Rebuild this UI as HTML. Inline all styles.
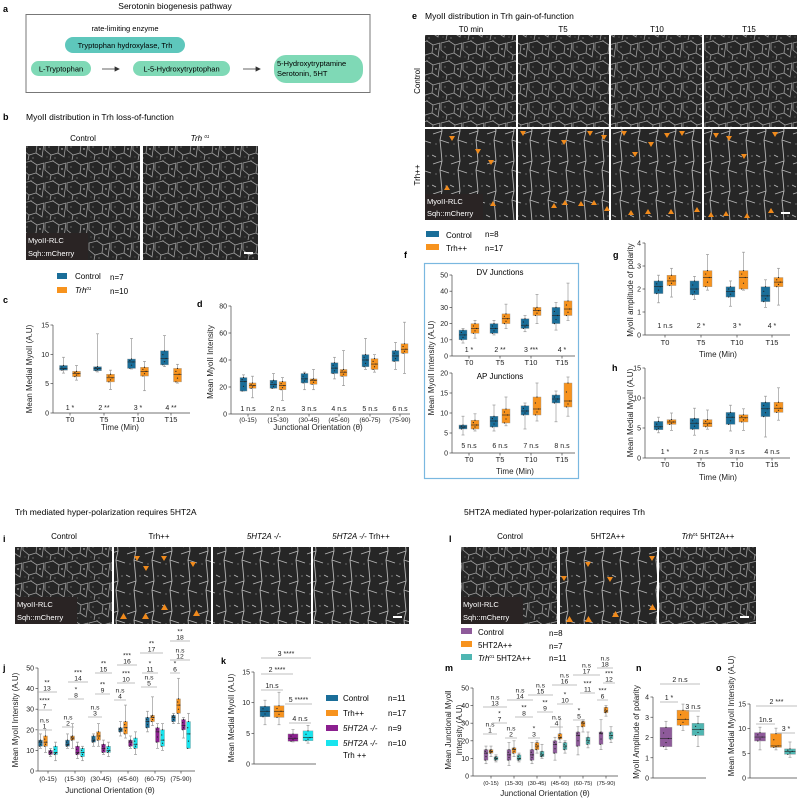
<!DOCTYPE html>
<html><head><meta charset="utf-8"><style>
html,body{margin:0;padding:0;background:#fff;}
svg{display:block;font-family:"Liberation Sans",Arial,sans-serif;}
</style></head><body>
<svg id="fig" width="800" height="799" viewBox="0 0 800 799" xmlns="http://www.w3.org/2000/svg">
<defs>
<pattern id="cells" width="22" height="20" patternUnits="userSpaceOnUse">
<rect width="22" height="20" fill="#262626"/>
<path d="M1 3 L9 1 L15 5 L14 13 L7 15 L1 10 Z M15 5 L22 3 M14 13 L20 17 L22 3 M7 15 L6 20 M9 1 L9 0" fill="none" stroke="#bdbdbd" stroke-width="0.8" opacity="0.8"/>
<circle cx="18" cy="9" r="0.7" fill="#ddd"/><circle cx="5" cy="7" r="0.6" fill="#999"/><circle cx="11" cy="18" r="0.6" fill="#999"/><circle cx="3" cy="17" r="0.5" fill="#888"/>
</pattern>
<pattern id="cells2" width="18" height="30" patternUnits="userSpaceOnUse">
<rect width="18" height="30" fill="#262626"/>
<path d="M9 0 L10 11 L8 20 L9 30 M10 11 L1 14 M8 20 L17 23 M0 5 L4 7" fill="none" stroke="#d0d0d0" stroke-width="0.9" opacity="0.85"/>
<circle cx="14" cy="6" r="0.6" fill="#aaa"/><circle cx="4" cy="24" r="0.6" fill="#999"/>
</pattern>
</defs>
<g id="static">
<text x="3" y="12" font-size="9" font-weight="bold">a</text>
<text x="175" y="9" font-size="8.5" text-anchor="middle">Serotonin biogenesis pathway</text>
<rect x="26" y="14.5" width="344" height="78" fill="none" stroke="#777" stroke-width="1"/>
<text x="125" y="31" font-size="7.5" text-anchor="middle">rate-limiting enzyme</text>
<rect x="65" y="37" width="120" height="16" rx="8" fill="#5ec7bc"/>
<text x="125" y="48" font-size="7.5" text-anchor="middle">Tryptophan hydroxylase, Trh</text>
<rect x="31" y="61" width="60" height="15" rx="7.5" fill="#7fd9b6"/>
<text x="61" y="71.5" font-size="7.5" text-anchor="middle">L-Tryptophan</text>
<rect x="133" y="61" width="97" height="15" rx="7.5" fill="#7fd9b6"/>
<text x="181.5" y="71.5" font-size="7.5" text-anchor="middle">L-5-Hydroxytryptophan</text>
<rect x="274" y="55" width="89" height="28" rx="12" fill="#7fd9b6"/>
<text x="277" y="66" font-size="7.5">5-Hydroxytryptamine</text>
<text x="277" y="76" font-size="7.5">Serotonin, 5HT</text>
<path d="M102 69 H118 M115 67 L119 69 L115 71 Z M243 69 H259 M256 67 L260 69 L256 71 Z" stroke="#333" fill="#333" stroke-width="0.8"/>
<text x="3" y="120" font-size="9" font-weight="bold">b</text>
<text x="26" y="120" font-size="8.5">MyoII distribution in Trh loss-of-function</text>
<text x="83" y="141" font-size="8" text-anchor="middle">Control</text>
<text x="200" y="141" font-size="8" text-anchor="middle" font-style="italic">Trh <tspan font-size="4.5" dy="-3">01</tspan></text>
<rect x="26" y="146" width="114" height="114" fill="url(#cells)"/>
<rect x="143" y="146" width="115" height="114" fill="url(#cells)"/>
<rect x="26" y="233" width="62" height="27" fill="#2a2424"/>
<text x="28" y="243" font-size="7.5" fill="#fff">MyoII-RLC</text>
<text x="28" y="256" font-size="7.5" fill="#fff">Sqh::mCherry</text>
<rect x="244" y="252" width="9" height="2" fill="#fff"/>
<rect x="57" y="273" width="10" height="6" fill="#1a6e99"/>
<text x="75" y="279" font-size="8">Control</text>
<text x="110" y="280" font-size="8">n=7</text>
<rect x="57" y="287" width="10" height="6" fill="#f7931e"/>
<text x="75" y="293" font-size="8" font-style="italic">Trh<tspan font-size="4.5" dy="-3">01</tspan></text>
<text x="110" y="294" font-size="8">n=10</text>
<text x="3" y="303" font-size="9" font-weight="bold">c</text>
<text x="197" y="307" font-size="9" font-weight="bold">d</text>
<text x="412" y="19" font-size="9" font-weight="bold">e</text>
<text x="425" y="19" font-size="8.5">MyoII distribution in Trh gain-of-function</text>
<text x="471" y="32" font-size="8" text-anchor="middle">T0 min</text>
<text x="563" y="32" font-size="8" text-anchor="middle">T5</text>
<text x="657" y="32" font-size="8" text-anchor="middle">T10</text>
<text x="749" y="32" font-size="8" text-anchor="middle">T15</text>
<text transform="translate(420,81) rotate(-90)" font-size="8" text-anchor="middle">Control</text>
<text transform="translate(420,175) rotate(-90)" font-size="8" text-anchor="middle">Trh++</text>
<rect x="425" y="35" width="91" height="92" fill="url(#cells)"/>
<rect x="518" y="35" width="91" height="92" fill="url(#cells)"/>
<rect x="611" y="35" width="91" height="92" fill="url(#cells)"/>
<rect x="704" y="35" width="93" height="92" fill="url(#cells)"/>
<rect x="425" y="129" width="91" height="91" fill="url(#cells2)"/>
<rect x="518" y="129" width="91" height="91" fill="url(#cells2)"/>
<rect x="611" y="129" width="91" height="91" fill="url(#cells2)"/>
<rect x="704" y="129" width="93" height="91" fill="url(#cells2)"/>
<rect x="425" y="194" width="58" height="26" fill="#2a2424"/>
<text x="427" y="204" font-size="7.5" fill="#fff">MyoII-RLC</text>
<text x="427" y="216" font-size="7.5" fill="#fff">Sqh::mCherry</text>
<g fill="#f08a1c">
<path d="M449 136 l6 0 l-3 5z M475 149 l6 0 l-3 5z M488 160 l6 0 l-3 5z M444 190 l6 0 l-3 -5z M490 206 l6 0 l-3 -5z M520 131 l6 0 l-3 5z M561 140 l6 0 l-3 5z M587 131 l6 0 l-3 5z M601 135 l6 0 l-3 5z M551 208 l6 0 l-3 -5z M562 205 l6 0 l-3 -5z M578 206 l6 0 l-3 -5z M591 205 l6 0 l-3 -5z M604 211 l6 0 l-3 -5z M621 131 l6 0 l-3 5z M632 152 l6 0 l-3 5z M648 142 l6 0 l-3 5z M664 133 l6 0 l-3 5z M679 131 l6 0 l-3 5z M628 215 l6 0 l-3 -5z M645 214 l6 0 l-3 -5z M668 214 l6 0 l-3 -5z M694 212 l6 0 l-3 -5z M713 133 l6 0 l-3 5z M726 136 l6 0 l-3 5z M741 154 l6 0 l-3 5z M772 132 l6 0 l-3 5z M708 217 l6 0 l-3 -5z M723 216 l6 0 l-3 -5z M744 218 l6 0 l-3 -5z M768 213 l6 0 l-3 -5z"/>
</g>
<rect x="781" y="212" width="9" height="2" fill="#fff"/>
<rect x="426" y="231" width="13" height="6" fill="#1a6e99"/>
<text x="446" y="238" font-size="8">Control</text>
<text x="485" y="237" font-size="8">n=8</text>
<rect x="426" y="244" width="13" height="6" fill="#f7931e"/>
<text x="446" y="251" font-size="8">Trh++</text>
<text x="485" y="251" font-size="8">n=17</text>
<text x="404" y="258" font-size="9" font-weight="bold">f</text>
<rect x="424.5" y="263.5" width="154" height="215" fill="none" stroke="#7ab8e0" stroke-width="1.2"/>
<text x="500" y="275" font-size="8" text-anchor="middle">DV Junctions</text>
<text x="500" y="379" font-size="8" text-anchor="middle">AP Junctions</text>
<text x="613" y="258" font-size="9" font-weight="bold">g</text>
<text x="612" y="371" font-size="9" font-weight="bold">h</text>
<text x="3" y="542" font-size="9" font-weight="bold">i</text>
<text x="15" y="515" font-size="8.5">Trh mediated hyper-polarization requires 5HT2A</text>
<text x="64" y="539" font-size="8" text-anchor="middle">Control</text>
<text x="159" y="539" font-size="8" text-anchor="middle">Trh++</text>
<text x="264" y="539" font-size="8" text-anchor="middle" font-style="italic">5HT2A -/-</text>
<text x="361" y="539" font-size="8" text-anchor="middle"><tspan font-style="italic">5HT2A -/-</tspan>  Trh++</text>
<rect x="15" y="547" width="97" height="77" fill="url(#cells)"/>
<rect x="114" y="547" width="97" height="77" fill="url(#cells2)"/>
<rect x="213" y="547" width="98" height="77" fill="url(#cells2)"/>
<rect x="313" y="547" width="96" height="77" fill="url(#cells2)"/>
<rect x="15" y="597" width="62" height="27" fill="#2a2424"/>
<text x="17" y="607" font-size="7.5" fill="#fff">MyoII-RLC</text>
<text x="17" y="620" font-size="7.5" fill="#fff">Sqh::mCherry</text>
<path fill="#f08a1c" d="M120 619 l7 0 l-3.5 -6z M142 619 l7 0 l-3.5 -6z M161 610 l7 0 l-3.5 -6z M193 616 l7 0 l-3.5 -6z M134 556 l6 0 l-3 5z M143 566 l6 0 l-3 5z M161 556 l6 0 l-3 5z M190 562 l6 0 l-3 5z"/>
<rect x="393" y="616" width="9" height="2" fill="#fff"/>
<text x="449" y="542" font-size="9" font-weight="bold">l</text>
<text x="464" y="515" font-size="8.5">5HT2A mediated hyper-polarization requires Trh</text>
<text x="510" y="539" font-size="8" text-anchor="middle">Control</text>
<text x="608" y="539" font-size="8" text-anchor="middle">5HT2A++</text>
<text x="708" y="539" font-size="8" text-anchor="middle"><tspan font-style="italic">Trh</tspan><tspan font-size="4.5" dy="-3">01</tspan><tspan dy="3"> 5HT2A++</tspan></text>
<rect x="461" y="547" width="96" height="77" fill="url(#cells)"/>
<rect x="560" y="547" width="97" height="77" fill="url(#cells2)"/>
<rect x="659" y="547" width="97" height="77" fill="url(#cells)"/>
<rect x="461" y="597" width="62" height="27" fill="#2a2424"/>
<text x="463" y="607" font-size="7.5" fill="#fff">MyoII-RLC</text>
<text x="463" y="620" font-size="7.5" fill="#fff">Sqh::mCherry</text>
<path fill="#f08a1c" d="M566 622 l7 0 l-3.5 -6z M585 622 l7 0 l-3.5 -6z M612 617 l7 0 l-3.5 -6z M649 610 l7 0 l-3.5 -6z M585 562 l6 0 l-3 5z M607 577 l6 0 l-3 5z M649 556 l6 0 l-3 5z M561 576 l6 0 l-3 5z"/>
<rect x="740" y="616" width="9" height="2" fill="#fff"/>
<rect x="461" y="628" width="11" height="6" fill="#8e5a9a"/>
<text x="478" y="635" font-size="8">Control</text>
<text x="549" y="636" font-size="8">n=8</text>
<rect x="461" y="641" width="11" height="6" fill="#f7931e"/>
<text x="478" y="648" font-size="8">5HT2A++</text>
<text x="549" y="649" font-size="8">n=7</text>
<rect x="461" y="654" width="11" height="6" fill="#4fb6b2"/>
<text x="478" y="661" font-size="8"><tspan font-style="italic">Trh</tspan><tspan font-size="4.5" dy="-3">01</tspan><tspan dy="3">   5HT2A++</tspan></text>
<text x="549" y="661" font-size="8">n=11</text>
<rect x="326" y="695" width="12" height="6" fill="#1a6e99"/>
<text x="343" y="701" font-size="8">Control</text>
<text x="388" y="701" font-size="8">n=11</text>
<rect x="326" y="710" width="12" height="6" fill="#f7931e"/>
<text x="343" y="716" font-size="8">Trh++</text>
<text x="388" y="716" font-size="8">n=17</text>
<rect x="326" y="725" width="12" height="6" fill="#8b1f8f"/>
<text x="343" y="731" font-size="8" font-style="italic">5HT2A -/-</text>
<text x="388" y="731" font-size="8">n=9</text>
<rect x="326" y="740" width="12" height="6" fill="#18e4ee"/>
<text x="343" y="746" font-size="8" font-style="italic">5HT2A -/-</text>
<text x="343" y="758" font-size="8">Trh ++</text>
<text x="388" y="746" font-size="8">n=10</text>
<text x="3" y="671" font-size="9" font-weight="bold">j</text>
<text x="221" y="664" font-size="9" font-weight="bold">k</text>
<text x="445" y="671" font-size="9" font-weight="bold">m</text>
<text x="636" y="671" font-size="9" font-weight="bold">n</text>
<text x="716" y="671" font-size="9" font-weight="bold">o</text>
</g>
<g id="charts"></g>
</svg>
<script>
// ---- data: [min, q1, median, q3, max] per box ----
const timeCats = ["T0","T5","T10","T15"];
const angleCats = ["(0-15)","(15-30)","(30-45)","(45-60)","(60-75)","(75-90)"];
const cControl = [[6.8,7.3,7.6,8.1,9.5],[7.0,7.2,7.6,7.9,13.5],[7.5,7.6,8.7,9.2,12.7],[7.9,8.2,9.3,10.6,13.2]];
const cTrh = [[5.6,6.2,6.7,7.1,8.1],[4.0,5.3,6.0,6.6,7.3],[3.8,6.3,7.1,7.8,8.8],[5.1,5.3,6.6,7.6,8.3]];
const cSig = ["1 *","2 **","3 *","4 **"];
const dControl = [[17,17,24,27,29],[19,19,22,25,30],[18,23,26,30,31],[26,30,34,38,42],[33,35,40,44,56],[33,39,43,47,53]];
const dTrh = [[12,19,21,23,28],[10,18,21,24,27],[18,22,25,26,33],[21,28,31,33,47],[31,33,37,41,44],[30,45,48,52,68]];
const dSig = ["1 n.s","2 n.s","3 n.s","4 n.s","5 n.s","6 n.s"];
const fDvControl = [[8,10,13,16,17],[13,14,17,20,22],[15,17,19,23,25],[16,20,25,30,33]];
const fDvTrh = [[11,14,17,20,22],[17,20,23,26,32],[20,25,28,30,38],[22,25,29,34,45]];
const fDvSig = ["1 *","2 **","3 ***","4 *"];
const fApControl = [[4.5,6,6.5,7,9.2],[5.5,6.5,8,9.2,12],[6,9.5,10.5,11.8,12.5],[7.8,12.5,13.5,14.5,15.5]];
const fApTrh = [[5.5,6,7,8.2,9.8],[6.8,7.5,9.5,11,14],[8,9.5,11,14,17.5],[9.2,11.5,13,17.5,19]];
const fApSig = ["5 n.s","6 n.s","7 n.s","8 n.s"];
const gControl = [[1.4,1.8,2.1,2.35,2.6],[1.55,1.75,2.0,2.35,2.55],[1.25,1.65,1.9,2.1,2.35],[1.2,1.45,1.7,2.1,2.4]];
const gTrh = [[1.65,2.15,2.35,2.6,2.9],[1.95,2.1,2.5,2.8,3.5],[1.95,2.0,2.5,2.8,3.6],[1.3,2.1,2.3,2.5,2.9]];
const gSig = ["1 n.s","2 *","3 *","4 *"];
const hControl = [[4.2,4.7,5.2,6.1,6.8],[3.8,4.8,5.8,6.6,8.3],[4.5,5.6,6.8,7.6,8.8],[3.5,6.9,8.2,9.3,10.3]];
const hTrh = [[4.6,5.6,6.0,6.4,7.5],[4.8,5.2,5.8,6.4,8.0],[4.6,6.0,6.7,7.2,8.2],[6.3,7.6,8.3,9.3,11.7]];
const hSig = ["1 *","2 n.s","3 n.s","4 n.s"];
const jControl = [[11,12,14,15,18],[11,12,13,15,18],[12,14,15,17,18],[17,19,20,21,24],[19,21,24,26,29],[23,24,26,27,28]];
const jTrh = [[9,12,14,17,20],[11,15,16,17,23],[12,15,17,19,23],[16,18,21,24,32],[22,24,26,27,36],[23,28,32,35,45]];
const j5ht = [[7,8,9,10,11],[6,8,9,12,14],[8,9,11,13,15],[11,12,14,15,17],[11,14,19,21,23],[16,20,22,25,26]];
const j5htTrh = [[5,8,9,12,14],[5,7,9,11,12],[7,9,10,12,14],[8,11,13,16,19],[10,12,15,20,23],[11,11,18,24,28]];
const kValues = [[6.4,7.7,8.6,9.4,10.4],[6.4,7.6,8.6,9.5,11.7],[3.6,3.7,4.2,4.9,5.6],[3.4,3.8,4.3,5.4,6.3]];
const mControl = [[7,9,13,15,17],[6,9,12,15,19],[7,9,12,15,19],[9,13,18,20,22],[12,17,23,25,28],[15,18,24,25,32]];
const m5ht = [[11,13,14,15,17],[11,13,15,16,20],[13,15,17,19,20],[19,21,22,24,32],[25,28,30,31,32],[34,36,37,39,40]];
const mTrh5ht = [[8,9,10,11,12],[8,9,10,12,13],[10,11,12,14,18],[13,15,17,19,20],[16,18,20,22,25],[19,21,23,25,28]];
const nValues = [[1.4,1.55,1.95,2.5,2.8],[2.35,2.6,2.9,3.35,3.65],[1.55,2.1,2.4,2.7,3.05]];
const oValues = [[5.7,7.5,8.3,9.2,10.3],[5.7,6.2,6.5,9.0,10.1],[4.2,4.8,5.4,5.9,7.3]];
const ticks0to15 = [0,5,10,15];
const ticks0to80 = [0,20,40,60,80];
const ticks0to50 = [0,10,20,30,40,50];
const ticks0to20 = [0,5,10,15,20];
const ticks0to4 = [0,1,2,3,4];

const NS = "http://www.w3.org/2000/svg";
const root = document.getElementById("charts");
function mk(tag, attrs, name, parent){
  const el = document.createElementNS(NS, tag);
  for (const k in attrs) el.setAttribute(k, attrs[k]);
  
  
  (parent || root).appendChild(el);
  return el;
}
function txt(x, y, s, size, name, anchor, parent, extra){
  const a = {x:x, y:y, "font-size":size, "text-anchor":anchor||"middle", fill:"#222"};
  if (extra) for (const k in extra) a[k] = extra[k];
  const t = mk("text", a, name, parent);
  t.textContent = s;
  return t;
}
function makeScale(vmin, vmax, y0, y1){ return v => y0 - (v - vmin) / (vmax - vmin) * (y0 - y1); }
function yAxis(g, ax, sc, ticks, name){
  const top = sc(ticks[ticks.length-1]);
  mk("line", {x1:ax, x2:ax, y1:sc(ticks[0]), y2:top, stroke:"#444", "stroke-width":0.7}, name+"-y-axis", g);
  ticks.forEach(t => {
    mk("line", {x1:ax-2.5, x2:ax, y1:sc(t), y2:sc(t), stroke:"#444", "stroke-width":0.7}, name+"-y-tick", g);
    txt(ax-4, sc(t)+2.5, String(t), 7, name+"-y-tick-label", "end", g);
  });
}
function xAxis(g, ax, xEnd, sc, centers, labels, labelY, size, name){
  const y0 = sc(0);
  mk("line", {x1:ax, x2:xEnd, y1:y0, y2:y0, stroke:"#444", "stroke-width":0.7}, name+"-x-axis", g);
  centers.forEach((c, i) => {
    mk("line", {x1:c, x2:c, y1:y0, y2:y0+2.5, stroke:"#444", "stroke-width":0.7}, name+"-x-tick", g);
    if (labels) txt(c, labelY, labels[i], size||7.5, name+"-x-tick-label", "middle", g);
  });
}
function box(g, cx, w, s, color, sc, name){
  mk("line", {x1:cx, x2:cx, y1:sc(s[0]), y2:sc(s[4]), stroke:"#9a9a9a", "stroke-width":0.7}, name+"-whisker", g);
  mk("line", {x1:cx-1.5, x2:cx+1.5, y1:sc(s[0]), y2:sc(s[0]), stroke:"#9a9a9a", "stroke-width":0.7}, name+"-cap", g);
  mk("line", {x1:cx-1.5, x2:cx+1.5, y1:sc(s[4]), y2:sc(s[4]), stroke:"#9a9a9a", "stroke-width":0.7}, name+"-cap", g);
  mk("rect", {x:cx-w/2, y:sc(s[3]), width:w, height:Math.max(0.5, sc(s[1])-sc(s[3])), fill:color, stroke:"#999", "stroke-width":0.4}, name+"-box", g);
  mk("line", {x1:cx-w/2, x2:cx+w/2, y1:sc(s[2]), y2:sc(s[2]), stroke:"#222", "stroke-width":0.6}, name+"-median", g);
  const pts = [s[1], (s[1]+s[2])/2, s[2], (s[2]+s[3])/2, s[3]];
  pts.forEach((p, i) => mk("circle", {cx:cx + ((i%3)-1)*w*0.2, cy:sc(p), r:0.6, fill:"#222"}, name+"-point", g));
}
function ytitle(g, x, y, s, size, name){
  txt(0, 0, s, size||8, name, "middle", g, {transform:"translate("+x+","+y+") rotate(-90)"});
}
function sig(g, x1, x2, y, num, star, name){
  mk("line", {x1:x1, x2:x2, y1:y, y2:y, stroke:"#aaa", "stroke-width":0.7}, name+"-line", g);
  txt((x1+x2)/2, y-1.5, num, 6.8, name+"-num", "middle", g);
  txt((x1+x2)/2, y-7.5, star, 6.8, name+"-sig", "middle", g);
}
function sigInline(g, x1, x2, y, label, name){
  mk("line", {x1:x1, x2:x2, y1:y, y2:y, stroke:"#aaa", "stroke-width":0.7}, name+"-line", g);
  txt((x1+x2)/2, y-2, label, 7, name+"-label", "middle", g);
}
const BLUE="#1a6e99", ORANGE="#f7931e", PURPLE="#8b1f8f", CYAN="#18e4ee", MPURP="#8e5a9a", TEAL="#4fb6b2";

function pairChart(name, ax, xEnd, sc, ticks, centers, cats, a, b, sigs, sigY, off, w, labelY){
  const g = mk("g", {}, name, root);
  yAxis(g, ax, sc, ticks, name);
  xAxis(g, ax, xEnd, sc, centers, cats, labelY, cats.length>4?6.6:7.5, name);
  centers.forEach((c, i) => {
    box(g, c-off, w, a[i], BLUE, sc, name+"-control-"+i);
    box(g, c+off, w, b[i], ORANGE, sc, name+"-trh-"+i);
    if (sigs) txt(c, sigY, sigs[i], 7, name+"-sig-label", "middle", g);
  });
  return g;
}
let sc = makeScale(0, 15, 413, 325);
let g = pairChart("chart-c", 53, 190, sc, ticks0to15, [70,104,138,171], timeCats, cControl, cTrh, cSig, 410, 6.5, 8, 422);
ytitle(g, 32, 369, "Mean Medial MyoII (A.U)");
txt(120, 430, "Time (Min)", 8, "chart-c-x-title", "middle", g);
sc = makeScale(0, 80, 414, 306);
g = pairChart("chart-d", 231, 410, sc, ticks0to80, [248,278,309,339,370,400], angleCats, dControl, dTrh, dSig, 411, 4.5, 7, 422);
ytitle(g, 213, 362, "Mean MyoII Intensity");
txt(318, 430, "Junctional Orientation (θ)", 8, "chart-d-x-title", "middle", g);
sc = makeScale(0, 50, 356, 275);
g = pairChart("chart-f-dv", 452, 575, sc, ticks0to50, [469,500,531,562], timeCats, fDvControl, fDvTrh, fDvSig, 352, 6, 8, 365);
sc = makeScale(0, 20, 453, 373);
g = pairChart("chart-f-ap", 452, 575, sc, ticks0to20, [469,500,531,562], timeCats, fApControl, fApTrh, fApSig, 448, 6, 8, 462);
ytitle(g, 434, 368, "Mean MyoII Intensity (A.U)");
txt(515, 474, "Time (Min)", 8, "chart-f-x-title", "middle", g);
sc = makeScale(0, 4, 335, 243);
g = pairChart("chart-g", 645, 790, sc, ticks0to4, [665,701,737,772], timeCats, gControl, gTrh, gSig, 328, 6.5, 9, 345);
ytitle(g, 633, 290, "MyoII amplitude of polarity");
txt(718, 357, "Time (Min)", 8, "chart-g-x-title", "middle", g);
sc = makeScale(0, 15, 458, 368);
g = pairChart("chart-h", 645, 790, sc, ticks0to15, [665,701,737,772], timeCats, hControl, hTrh, hSig, 454, 6.5, 9, 467);
ytitle(g, 633, 413, "Mean Medial MyoII (A.U)");
txt(718, 480, "Time (Min)", 8, "chart-h-x-title", "middle", g);
sc = makeScale(0, 50, 771, 668);
g = mk("g", {}, "chart-j", root);
const jCenters = [48,75,101,128,155,181];
yAxis(g, 38, sc, ticks0to50, "chart-j");
xAxis(g, 38, 195, sc, jCenters, angleCats, 781, 6.6, "chart-j");
const jSeries = [jControl, jTrh, j5ht, j5htTrh], jCols = [BLUE, ORANGE, PURPLE, CYAN], jOff = [-7.5,-2.5,2.5,7.5];
jCenters.forEach((c, i) => jSeries.forEach((s, k) => box(g, c+jOff[k], 4, s[i], jCols[k], sc, "chart-j-box-"+i+"-"+k)));
ytitle(g, 18, 720, "Mean MyoII Intensity (A.U)");
txt(110, 793, "Junctional Orientation (θ)", 8, "chart-j-x-title", "middle", g);
[[37,52,730,"1","n.s"],[37,52,710,"7","****"],[37,57,692,"13","**"],
 [62,74,727,"2","n.s"],[68,84,699,"8","*"],[68,88,682,"14","***"],
 [88,102,717,"3","n.s"],[95,110,694,"9","**"],[95,112,673,"15","**"],
 [114,126,700,"4","n.s"],[117,135,683,"10","***"],[117,137,665,"16","***"],
 [141,157,687,"5","n.s"],[142,158,673,"11","*"],[140,163,653,"17","**"],
 [170,180,673,"6","*"],[170,190,660,"12","n.s"],[170,190,641,"18","**"]
].forEach(a => sig(g, a[0], a[1], a[2], a[3], a[4], "chart-j-annotation"));
sc = makeScale(0, 15, 764, 672);
g = mk("g", {}, "chart-k", root);
yAxis(g, 254, sc, ticks0to15, "chart-k");
mk("line", {x1:254, x2:316, y1:sc(0), y2:sc(0), stroke:"#444", "stroke-width":0.7}, "chart-k-x-axis", g);
const kCenters = [265,279,293,308], kCols = [BLUE, ORANGE, PURPLE, CYAN];
kValues.forEach((s, i) => box(g, kCenters[i], 10, s, kCols[i], sc, "chart-k-box-"+i));
ytitle(g, 234, 718, "Mean Medial MyoII (A.U)");
[[261,283,690,"1n.s"],[261,293,674,"2 ****"],[261,311,658,"3 ****"],[289,311,723,"4 n.s"],[285,312,704,"5 *****"]]
 .forEach(a => sigInline(g, a[0], a[1], a[2], a[3], "chart-k-annotation"));
sc = makeScale(0, 50, 776, 688);
g = mk("g", {}, "chart-m", root);
const mCenters = [491,514,537,560,583,606];
yAxis(g, 473, sc, ticks0to50, "chart-m");
xAxis(g, 473, 618, sc, mCenters, angleCats, 785, 5.8, "chart-m");
const mSeries = [mControl, m5ht, mTrh5ht], mCols = [MPURP, ORANGE, TEAL], mOff = [-5,0,5];
mCenters.forEach((c, i) => mSeries.forEach((s, k) => box(g, c+mOff[k], 4, s[i], mCols[k], sc, "chart-m-box-"+i+"-"+k)));
ytitle(g, 451, 730, "Mean Junctional Myoll");
ytitle(g, 462, 730, "Intensity (A.U)");
txt(545, 796, "Junctional Orientation (θ)", 8, "chart-m-x-title", "middle", g);
[[483,497,734,"1","n.s"],[492,507,723,"7","*"],[483,507,707,"13","n.s"],
 [505,517,738,"2","n.s"],[515,533,717,"8","**"],[507,533,700,"14","n.s"],
 [528,540,738,"3","*"],[537,553,712,"9","**"],[528,553,695,"15","n.s"],
 [550,563,727,"4","n.s"],[557,573,704,"10","*"],[552,577,685,"16","n.s"],
 [573,585,720,"5","*"],[580,595,693,"11","***"],[573,600,675,"17","n.s"],
 [597,608,700,"6","***"],[603,615,683,"12","***"],[597,613,668,"18","n.s"]
].forEach(a => sig(g, a[0], a[1], a[2], a[3], a[4], "chart-m-annotation"));
sc = makeScale(0, 4, 778, 697);
g = mk("g", {}, "chart-n", root);
yAxis(g, 653, sc, ticks0to4, "chart-n");
mk("line", {x1:653, x2:706, y1:sc(0), y2:sc(0), stroke:"#444", "stroke-width":0.7}, "chart-n-x-axis", g);
const nCenters = [666,683,698], nCols = [MPURP, ORANGE, TEAL];
nValues.forEach((s, i) => box(g, nCenters[i], 12, s, nCols[i], sc, "chart-n-box-"+i));
ytitle(g, 639, 732, "MyoII Amplitude of polarity");
[[660,700,684,"2 n.s"],[660,678,702,"1 *"],[686,700,711,"3 n.s"]].forEach(a => sigInline(g, a[0], a[1], a[2], a[3], "chart-n-annotation"));
sc = makeScale(0, 15, 778, 704);
g = mk("g", {}, "chart-o", root);
yAxis(g, 750, sc, ticks0to15, "chart-o");
mk("line", {x1:750, x2:797, y1:sc(0), y2:sc(0), stroke:"#444", "stroke-width":0.7}, "chart-o-x-axis", g);
const oCenters = [760,776,790], oCols = [MPURP, ORANGE, TEAL];
oValues.forEach((s, i) => box(g, oCenters[i], 11, s, oCols[i], sc, "chart-o-box-"+i));
ytitle(g, 734, 716, "Mean Medial MyoII Intensity (A.U)");
[[756,797,706,"2 ***"],[756,775,724,"1n.s"],[777,795,733,"3 *"]].forEach(a => sigInline(g, a[0], a[1], a[2], a[3], "chart-o-annotation"));
</script>
</body></html>
